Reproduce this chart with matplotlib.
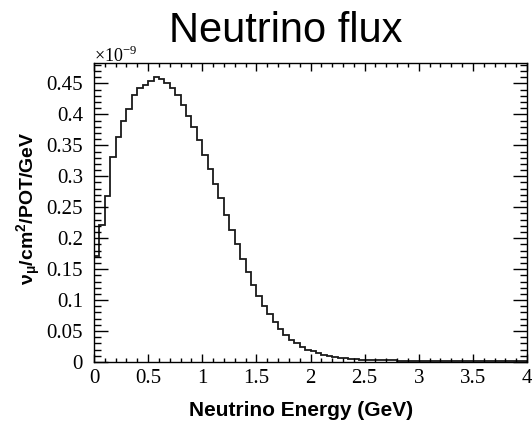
import matplotlib
matplotlib.use("Agg")
import matplotlib.pyplot as plt
import numpy as np
from matplotlib.ticker import MultipleLocator, FuncFormatter

# Data (flux in units of 1e-9 nu_mu/cm^2/POT/GeV), 80 bins of 0.05 GeV from 0 to 4 GeV
bin_edges = np.linspace(0.0, 4.0, 81)
flux = [
    0.172, 0.222, 0.268, 0.331, 0.364, 0.389, 0.408, 0.432, 0.442, 0.447,
    0.454, 0.460, 0.457, 0.451, 0.442, 0.431, 0.415, 0.397, 0.380, 0.358,
    0.335, 0.312, 0.288, 0.265, 0.238, 0.214, 0.190, 0.167, 0.146, 0.125,
    0.107, 0.091, 0.077, 0.064, 0.054, 0.044, 0.036, 0.030, 0.024, 0.020,
    0.017, 0.0140, 0.0118, 0.0098, 0.0082, 0.0069, 0.0059, 0.0051, 0.0045, 0.0040,
    0.0036, 0.0033, 0.0030, 0.0028, 0.0026, 0.0025, 0.0024, 0.0023, 0.0022, 0.0021,
    0.0020, 0.0019, 0.0019, 0.0018, 0.0017, 0.0017, 0.0016, 0.0016, 0.0015, 0.0015,
    0.0014, 0.0014, 0.0013, 0.0013, 0.0012, 0.0012, 0.0012, 0.0011, 0.0011, 0.0010,
]
title = "Neutrino flux"
xlabel = "Neutrino Energy (GeV)"
ylabel = r"ν$_{\mathrm{μ}}$/cm$^{\mathbf{2}}$/POT/GeV"
multiplier = r"×10$^{\mathregular{-9}}$"

plt.rcParams['mathtext.fontset'] = 'custom'
plt.rcParams['mathtext.rm'] = 'Liberation Sans:bold'
plt.rcParams['mathtext.bf'] = 'Liberation Sans:bold'
plt.rcParams['mathtext.it'] = 'Liberation Sans:bold'

W, H = 532, 425
fig = plt.figure(figsize=(W / 100, H / 100), dpi=100)
L, R, T, B = 94, 527, 63, 362
ax = fig.add_axes([L / W, 1 - B / H, (R - L) / W, (B - T) / H])

ax.stairs(flux, bin_edges, color='#1a1a1a', lw=1.3, baseline=0)

ax.set_xlim(0, 4)
ax.set_ylim(0, 0.483)

ax.xaxis.set_major_locator(MultipleLocator(0.5))
ax.xaxis.set_minor_locator(MultipleLocator(0.1))
ax.yaxis.set_major_locator(MultipleLocator(0.05))
ax.yaxis.set_minor_locator(MultipleLocator(0.01))
fmt = FuncFormatter(lambda v, p: ("%g" % round(v, 4)))
ax.xaxis.set_major_formatter(fmt)
ax.yaxis.set_major_formatter(fmt)

for s in ax.spines.values():
    s.set_linewidth(1.0)
    s.set_color('black')

ax.tick_params(axis='both', which='both', direction='in', top=True, right=True,
               width=1.0, color='black')
ax.tick_params(axis='x', which='major', length=5.8, pad=5)
ax.tick_params(axis='x', which='minor', length=2.9)
ax.tick_params(axis='y', which='major', length=10, pad=8)
ax.tick_params(axis='y', which='minor', length=5)

for lab in ax.get_xticklabels() + ax.get_yticklabels():
    lab.set_fontfamily('Liberation Serif')
    lab.set_fontsize(15)

fig.text(286 / W, 1 - 42 / H, title, ha='center', va='baseline',
         fontsize=30, family='Liberation Sans')
fig.text(L / W, 1 - 62 / H, multiplier, ha='left', va='baseline',
         fontsize=13, family='Liberation Serif')
fig.text(301 / W, 1 - 416 / H, xlabel, ha='center', va='baseline',
         fontsize=15, family='Liberation Sans', weight='bold')
fig.text(29 / W, 1 - 208 / H, ylabel, ha='center', va='center', rotation=90,
         fontsize=14, family='Liberation Sans', weight='bold')

fig.savefig('out.png', dpi=100)
